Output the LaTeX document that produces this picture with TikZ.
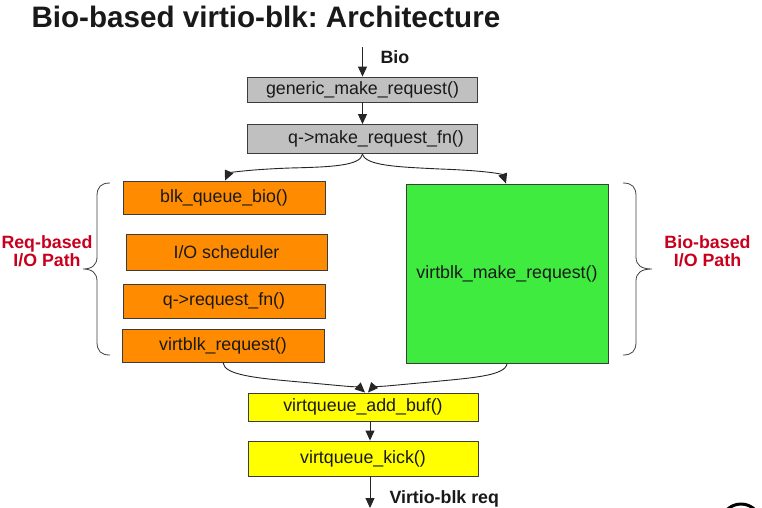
\documentclass[tikz,border=0pt]{standalone}
\usepackage{fontspec}
\setmainfont{Liberation Sans}
\usetikzlibrary{arrows.meta}
\definecolor{boxgray}{RGB}{192,192,192}
\definecolor{boxorange}{RGB}{255,140,0}
\definecolor{boxgreen}{RGB}{62,235,62}
\definecolor{boxyellow}{RGB}{255,255,0}
\definecolor{edgegray}{RGB}{60,60,60}
\definecolor{labred}{RGB}{200,0,30}
\definecolor{txt}{RGB}{25,25,25}
\frenchspacing
\begin{document}
\begin{tikzpicture}[x=1pt,y=-1pt,
  fbox/.style={draw=edgegray,line width=0.9pt,inner sep=0pt,text=txt,
    font=\fontsize{17.8}{19}\selectfont},
  conn/.style={draw=black!85,line width=0.9pt,-{Triangle[length=10pt,width=9pt]}},
  brace/.style={draw=black!75,line width=0.8pt},
  sidelab/.style={text=labred,font=\fontsize{17.8}{18}\selectfont\bfseries,align=center},
  outlab/.style={text=txt,font=\fontsize{17.8}{19}\selectfont\bfseries}]
\useasboundingbox (0,0) rectangle (762,507);
\fill[white] (0,0) rectangle (762,507);

\node[anchor=base west,text=txt,font=\fontsize{29.6}{34}\selectfont\bfseries] (title) at (28,27) {Bio-based virtio-blk: Architecture};

\coordinate (bioin) at (362.5,47);
\node[outlab,anchor=base west] (biolab) at (377,63) {Bio};

\node[fbox,fill=boxgray,minimum width=230pt,minimum height=25pt] (generic) at (362.5,89.5) {generic\_make\_request()};
\node[fbox,fill=boxgray,minimum width=230pt,minimum height=29pt] (qmake) at (362.5,139) {\hspace*{27pt}q->make\_request\_fn()};

\node[fbox,fill=boxorange,minimum width=202pt,minimum height=33pt] (blk) at (224,197.5) {blk\_queue\_bio()};
\node[fbox,fill=boxorange,minimum width=201pt,minimum height=36pt] (iosched) at (226.5,252) {I/O scheduler};
\node[fbox,fill=boxorange,minimum width=202pt,minimum height=34pt] (reqfn) at (224,301) {q->request\_fn()};
\node[fbox,fill=boxorange,minimum width=202pt,minimum height=33pt] (vreq) at (223,345.5) {virtblk\_request()};

\node[fbox,fill=boxgreen,minimum width=202pt,minimum height=179pt] (vmake) at (507,273.5) {virtblk\_make\_request()};

\node[fbox,fill=boxyellow,minimum width=230pt,minimum height=28pt] (addbuf) at (363,407) {virtqueue\_add\_buf()};
\node[fbox,fill=boxyellow,minimum width=230pt,minimum height=35pt] (kick) at (363,458.5) {virtqueue\_kick()};

\coordinate (vout) at (370,508);
\node[outlab,anchor=base west] (vlab) at (386,503) {Virtio-blk req};

% straight connectors
\draw[conn] (bioin) -- (generic.north);
\draw[conn] (generic.south) -- (generic.south |- qmake.north);
\draw[conn] ([xshift=7pt]addbuf.south) -- ([xshift=7pt]kick.north);
\draw[conn] ([xshift=7pt]kick.south) -- (vout);

% curved connectors
\draw[conn] (qmake.south) .. controls (361,166) and (330,167) .. (290,168)
  .. controls (236,170) and (228,174) .. ([xshift=1pt]blk.north);
\draw[conn] (qmake.south) .. controls (365,166) and (400,167) .. (440,169)
  .. controls (495,171) and (503,175) .. ([xshift=-1pt]vmake.north);
\draw[conn] (vreq.south) .. controls (224,375) and (255,378) .. (300,382)
  .. controls (345,386) and (360,388) .. ([xshift=2pt]addbuf.north);
\draw[conn] (vmake.south) .. controls (506,376) and (470,378) .. (430,382)
  .. controls (385,386) and (372,388) .. ([xshift=5pt]addbuf.north);

% braces
\draw[brace] (110,183) .. controls (101,183) and (97,187) .. (97,196) -- (97,257)
  .. controls (97,265) and (92,269) .. (83,269)
  .. controls (92,269) and (97,273) .. (97,281) -- (97,342)
  .. controls (97,351) and (101,355) .. (110,355);
\draw[brace] (623,183) .. controls (632,183) and (636,187) .. (636,196) -- (636,257)
  .. controls (636,265) and (641,269) .. (652,269)
  .. controls (641,269) and (636,273) .. (636,281) -- (636,342)
  .. controls (636,351) and (632,355) .. (623,355);

\node[sidelab] (reqlab) at (47,251) {Req-based\\I/O Path};
\node[sidelab] (biopath) at (707.5,251) {Bio-based\\I/O Path};

% partial circle at the lower right corner
\draw[line width=3pt] (741,524) circle (20);
\end{tikzpicture}
\end{document}
